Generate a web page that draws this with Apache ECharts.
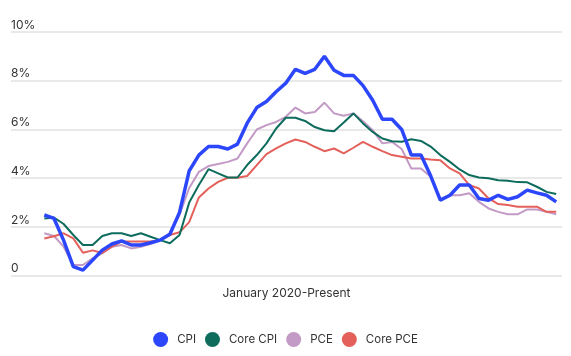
<!DOCTYPE html>
<html>
<head>
<meta charset="utf-8">
<script src="https://cdn.jsdelivr.net/npm/echarts@6/dist/echarts.min.js"></script>
<style>
  html, body { margin: 0; padding: 0; background: #ffffff; }
  #chart { width: 571px; height: 356px; }
</style>
</head>
<body>
<div id="chart"></div>
<script>
// Monthly, January 2020 - June 2024 (54 months), year-over-year %
const seriesNames = ['CPI', 'Core CPI', 'PCE', 'Core PCE'];
const axisTitle = 'January 2020-Present';
const yTicks = [0, 2, 4, 6, 8, 10];

const cpi = [
  2.49, 2.35, 1.45, 0.37, 0.23, 0.64, 1.05, 1.30, 1.43, 1.26, 1.26, 1.35,
  1.46, 1.70, 2.60, 4.30, 4.95, 5.30, 5.30, 5.20, 5.40, 6.26, 6.90, 7.15,
  7.55, 7.90, 8.47, 8.30, 8.47, 9.00, 8.43, 8.22, 8.22, 7.80, 7.20, 6.42,
  6.42, 6.00, 4.95, 4.95, 4.10, 3.10, 3.30, 3.72, 3.72, 3.17, 3.10, 3.30,
  3.13, 3.24, 3.51, 3.40, 3.30, 3.03
];
const coreCpi = [
  2.35, 2.39, 2.12, 1.67, 1.26, 1.26, 1.63, 1.74, 1.74, 1.63, 1.74, 1.60,
  1.46, 1.33, 1.67, 3.00, 3.72, 4.37, 4.20, 4.03, 4.03, 4.54, 4.95, 5.43,
  6.04, 6.48, 6.48, 6.35, 6.10, 5.97, 5.93, 6.29, 6.66, 6.25, 5.90, 5.63,
  5.52, 5.50, 5.60, 5.53, 5.30, 4.95, 4.67, 4.36, 4.13, 4.03, 4.00, 3.92,
  3.90, 3.84, 3.83, 3.65, 3.44, 3.35
];
const pce = [
  1.74, 1.63, 1.19, 0.44, 0.44, 0.71, 0.92, 1.19, 1.26, 1.12, 1.19, 1.30,
  1.46, 1.74, 2.50, 3.60, 4.26, 4.50, 4.58, 4.67, 4.81, 5.43, 6.00, 6.18,
  6.31, 6.52, 6.90, 6.66, 6.72, 7.10, 6.66, 6.56, 6.66, 6.34, 5.97, 5.43,
  5.49, 5.20, 4.40, 4.40, 4.06, 3.13, 3.30, 3.30, 3.38, 3.03, 2.76, 2.62,
  2.52, 2.52, 2.72, 2.72, 2.62, 2.52
];
const corePce = [
  1.53, 1.62, 1.74, 1.53, 0.94, 1.04, 0.93, 1.19, 1.40, 1.40, 1.40, 1.40,
  1.46, 1.67, 1.78, 2.20, 3.21, 3.58, 3.85, 4.02, 4.02, 4.09, 4.54, 4.99,
  5.22, 5.43, 5.59, 5.49, 5.29, 5.11, 5.22, 5.02, 5.25, 5.49, 5.29, 5.11,
  4.95, 4.88, 4.81, 4.81, 4.77, 4.74, 4.40, 4.20, 3.72, 3.58, 3.17, 2.94,
  2.90, 2.83, 2.83, 2.83, 2.62, 2.62
];

const colors = {
  'CPI': '#2c46fb',
  'Core CPI': '#0e6c5d',
  'PCE': '#c39ac5',
  'Core PCE': '#e4605a'
};

function pairs(arr) { return arr.map((v, i) => [i, v]); }

const chart = echarts.init(document.getElementById('chart'));
const font = 'Inter, "Noto Sans", sans-serif';

chart.setOption({
  animation: false,
  backgroundColor: '#ffffff',
  grid: { left: 11, right: 9, top: 32, bottom: 80.3, containLabel: false },
  xAxis: {
    type: 'value',
    min: -3.45,
    max: 53.6,
    name: axisTitle,
    nameLocation: 'middle',
    nameGap: 12,
    nameTextStyle: { color: '#333', fontSize: 12, fontFamily: font },
    axisLine: { show: false },
    axisTick: { show: false },
    axisLabel: { show: false },
    splitLine: { show: false }
  },
  yAxis: {
    type: 'value',
    min: yTicks[0],
    max: yTicks[yTicks.length - 1],
    interval: 2,
    axisLine: { show: false },
    axisTick: { show: false },
    axisLabel: {
      inside: true,
      margin: 0,
      verticalAlign: 'bottom',
      padding: [0, 0, 1, 0],
      color: '#333',
      fontSize: 12,
      fontFamily: font,
      formatter: v => v === 0 ? '0' : v + '%'
    },
    splitLine: { lineStyle: { color: '#e2e2e2', width: 1.5 } }
  },
  legend: {
    data: seriesNames,
    top: 327,
    left: 'center',
    icon: 'circle',
    itemWidth: 15,
    itemHeight: 15,
    itemGap: 9,
    textStyle: { color: '#333', fontSize: 11.5, fontFamily: font, padding: [0, 0, 0, 4] }
  },
  series: [
    { name: 'PCE', type: 'line', data: pairs(pce), showSymbol: false, symbol: 'none',
      lineStyle: { color: colors['PCE'], width: 2 }, itemStyle: { color: colors['PCE'] }, z: 2 },
    { name: 'Core PCE', type: 'line', data: pairs(corePce), showSymbol: false, symbol: 'none',
      lineStyle: { color: colors['Core PCE'], width: 2 }, itemStyle: { color: colors['Core PCE'] }, z: 3 },
    { name: 'Core CPI', type: 'line', data: pairs(coreCpi), showSymbol: false, symbol: 'none',
      lineStyle: { color: colors['Core CPI'], width: 2 }, itemStyle: { color: colors['Core CPI'] }, z: 4 },
    { name: 'CPI', type: 'line', data: pairs(cpi), showSymbol: false, symbol: 'none',
      lineStyle: { color: colors['CPI'], width: 3.5 }, itemStyle: { color: colors['CPI'] }, z: 5 }
  ]
});
</script>
</body>
</html>
